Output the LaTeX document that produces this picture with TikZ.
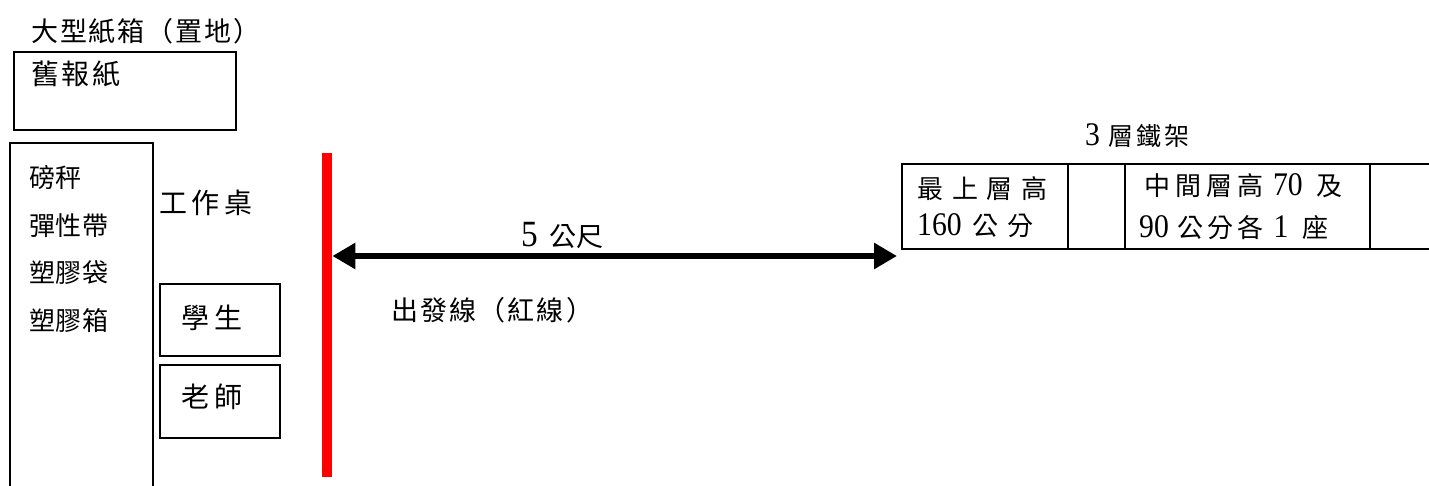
\documentclass[tikz,border=0pt]{standalone}
\usepackage{fontspec}
\usetikzlibrary{arrows.meta}
\setmainfont{Liberation Serif}
\newfontfamily\cjk{Noto Sans CJK TC}
\newfontfamily\dgfont[FakeStretch=0.9]{Liberation Serif}
\newcommand\dg[2]{{\fontsize{#1}{#1}\dgfont #2}}
\tikzset{
  box/.style={draw, line width=2pt, rectangle, inner sep=0pt, anchor=north west},
  txt/.style={inner sep=0pt, anchor=west},
  dimline/.style={line width=6pt, {Triangle[length=23pt,width=25pt]}-{Triangle[length=23pt,width=25pt]}},
}
\begin{document}
\begin{tikzpicture}[x=1pt,y=-1pt]
\useasboundingbox (0,0) rectangle (1429,486);
\clip (0,0) rectangle (1429,486);
% boxes
\node[box, minimum width=222pt, minimum height=78pt] (paper) at (13,51) {};
\node[box, minimum width=143pt, minimum height=400pt] (shelfbox) at (9,142) {};
\node[box, minimum width=120pt, minimum height=72pt] (student) at (159,283) {};
\node[box, minimum width=120pt, minimum height=73pt] (teacher) at (159,364) {};
\node[rectangle, fill=red, inner sep=0pt, anchor=north west, minimum width=10pt, minimum height=324pt] (red) at (322,153) {};
% table
\node[box, minimum width=166pt, minimum height=85pt] (c1) at (901,163) {};
\node[box, minimum width=57pt, minimum height=85pt] (c2) at (1067,163) {};
\node[box, minimum width=245pt, minimum height=85pt] (c3) at (1124,163) {};
\node[box, minimum width=80pt, minimum height=85pt] (c4) at (1369,163) {};
% texts
\node[txt, font={\fontsize{27}{27}\cjk\addfontfeature{LetterSpace=7}}] (title) at (31,31) {大型紙箱（置地）};
\node[txt, font={\fontsize{28}{28}\cjk\addfontfeature{LetterSpace=10}}] (paperlbl) at (31,74) {舊報紙};
\node[txt, font={\fontsize{26}{26}\cjk\addfontfeature{LetterSpace=3}}] (i1) at (29,178) {磅秤};
\node[txt, font={\fontsize{26}{26}\cjk\addfontfeature{LetterSpace=3}}] (i2) at (29,226) {彈性帶};
\node[txt, font={\fontsize{26}{26}\cjk\addfontfeature{LetterSpace=3}}] (i3) at (29,273) {塑膠袋};
\node[txt, font={\fontsize{26}{26}\cjk\addfontfeature{LetterSpace=3}}] (i4) at (29,321) {塑膠箱};
\node[txt, font={\fontsize{28}{28}\cjk\addfontfeature{LetterSpace=17}}] (desk) at (159,203) {工作桌};
\node[txt, font={\fontsize{28}{28}\cjk\addfontfeature{LetterSpace=20}}] (stu) at (181,318) {學生};
\node[txt, font={\fontsize{28}{28}\cjk\addfontfeature{LetterSpace=20}}] (tea) at (181,397) {老師};
\node[txt, font={\fontsize{27}{27}\cjk\addfontfeature{LetterSpace=8}}] (start) at (391,310) {出發線（紅線）};
\node[txt, font={\fontsize{27}{27}\cjk}] (dist) at (521,236) {\dg{37}{5}\hspace{12pt}公尺};
\node[txt, font={\fontsize{25}{25}\cjk\addfontfeature{LetterSpace=12}}] (rack) at (1085,136) {\dg{33}{3}\hspace{8pt}層鐵架};
\node[txt, font={\fontsize{26}{26}\cjk\addfontfeature{LetterSpace=34}}] (t1a) at (917,189) {最上層高};
\node[txt, font={\fontsize{26}{26}\cjk\addfontfeature{LetterSpace=34}}] (t1b) at (917,226) {\dg{33}{160}\hspace{11pt}公分};
\node[txt, font={\fontsize{26}{26}\cjk\addfontfeature{LetterSpace=19}}] (t3a) at (1144,186) {中間層高\hspace{10pt}\dg{33}{70}\hspace{14pt}及};
\node[txt, font={\fontsize{26}{26}\cjk\addfontfeature{LetterSpace=15}}] (t3b) at (1139,228) {\dg{33}{90}\hspace{9pt}公分各\hspace{10pt}\dg{33}{1}\hspace{14pt}座};
% arrow
\coordinate (aR) at (897,256);
\draw[dimline] (red.east |- aR) -- (aR);
\end{tikzpicture}
\end{document}
